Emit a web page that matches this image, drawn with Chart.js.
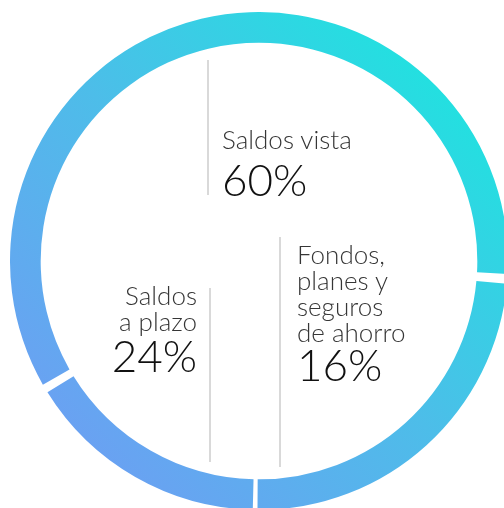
<!DOCTYPE html>
<html lang="es">
<head>
<meta charset="utf-8">
<title>Distribución del ahorro</title>
<script src="https://cdn.jsdelivr.net/npm/chart.js@4.4.1/dist/chart.umd.min.js"></script>
<style>
  html, body {
    margin: 0;
    padding: 0;
    width: 504px;
    height: 508px;
    overflow: hidden;
    background: #fff;
    font-family: Lato, "Open Sans", sans-serif;
  }
  #ringWrap {
    position: absolute;
    left: 10px;
    top: 12px;
    width: 498px;
    height: 498px;
  }
  .rule {
    position: absolute;
    width: 2px;
    background: #d9d9d9;
  }
  .lbl {
    position: absolute;
    white-space: pre;
  }
  .lbl .name {
    font-size: 26px;
    line-height: 26px;
    font-weight: 300;
    color: #363636;
  }
  .lbl .pct {
    font-size: 44px;
    line-height: 46px;
    font-weight: 300;
    color: #111;
  }
</style>
</head>
<body>
<div id="ringWrap"><canvas id="ring"></canvas></div>

<div class="rule" style="left:207px; top:60px; height:135px;"></div>
<div class="rule" style="left:209px; top:288px; height:174px;"></div>
<div class="rule" style="left:279px; top:237px; height:230px;"></div>

<div class="lbl" id="lbl0" style="left:297px; top:241px;"></div>
<div class="lbl" id="lbl1" style="left:222px; top:126px;"></div>
<div class="lbl" id="lbl2" style="right:307px; top:282px; text-align:right;"></div>

<script>
// savings mix, in ring order starting from the bottom gap
const categories = ['Fondos,\nplanes y\nseguros\nde ahorro', 'Saldos vista', 'Saldos\na plazo'];
const shares = [16, 60, 24];
// extra room between name and percentage for each label
const pctGap = [-4, 4, -2];

// ring gradient, top-right (cyan) to bottom-left (blue)
const gradientStops = ['#1ee4df', '#4dbde9', '#6d9ef3'];

function ringGradient(context) {
    const chart = context.chart;
    const area = chart.chartArea;
    if (!area) return gradientStops[1];
    const g = chart.ctx.createLinearGradient(area.right, area.top, area.left, area.bottom);
    g.addColorStop(0.1, gradientStops[0]);
    g.addColorStop(0.5, gradientStops[1]);
    g.addColorStop(0.9, gradientStops[2]);
    return g;
}

new Chart(document.getElementById('ring'), {
    type: 'doughnut',
    data: {
        labels: categories,
        datasets: [{
            data: shares,
            backgroundColor: ringGradient,
            borderWidth: 0,
            hoverOffset: 0
        }]
    },
    options: {
        responsive: true,
        maintainAspectRatio: false,
        animation: false,
        rotation: 181,
        cutout: '87.5%',
        spacing: 7,
        layout: { padding: 0 },
        plugins: {
            legend: { display: false },
            tooltip: { enabled: false }
        }
    }
});

// text labels next to the grey rules
categories.forEach((name, i) => {
    const box = document.getElementById('lbl' + i);
    const n = document.createElement('div');
    n.className = 'name';
    n.textContent = name;
    const p = document.createElement('div');
    p.className = 'pct';
    p.style.marginTop = pctGap[i] + 'px';
    p.textContent = shares[i] + '%';
    box.appendChild(n);
    box.appendChild(p);
});
</script>
</body>
</html>
